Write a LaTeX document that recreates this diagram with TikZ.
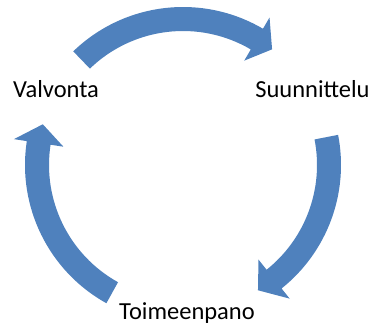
\documentclass[tikz,border=0pt]{standalone}
\usepackage{fontspec}
\setmainfont{Carlito}
\usetikzlibrary{calc}
\definecolor{cycleblue}{RGB}{79,129,189}
\tikzset{
  phase/.style={font=\fontsize{24.5}{29}\selectfont, inner sep=0pt, anchor=base},
  blockarrow/.style={fill=cycleblue, draw=none},
}
% curved block arrow round (c): tail angle, head base angle, tip angle
\newcommand{\cyclearrow}[3]{%
  \fill[blockarrow, shift={(c)}] (#1:158) arc[start angle=#1, end angle=#2, radius=158]
    -- (#2:171) -- (#3:146) -- (#2:121) -- (#2:134)
    arc[start angle=#2, end angle=#1, radius=134] -- cycle;}

\begin{document}
\begin{tikzpicture}[x=1pt, y=1pt]
\useasboundingbox (0,0) rectangle (371,-327);
\coordinate (c) at (183,-165);
\node (valv) [phase] at (56,-97)    {Valvonta};
\node (suun) [phase] at (312.5,-97) {Suunnittelu};
\node (toim) [phase] at (187,-319)  {Toimeenpano};

% arrows of the cycle
\cyclearrow{134}{59.6}{52.4}
\cyclearrow{11}{-51.4}{-59.1}
\cyclearrow{241}{171.3}{163.8}
\end{tikzpicture}
\end{document}
